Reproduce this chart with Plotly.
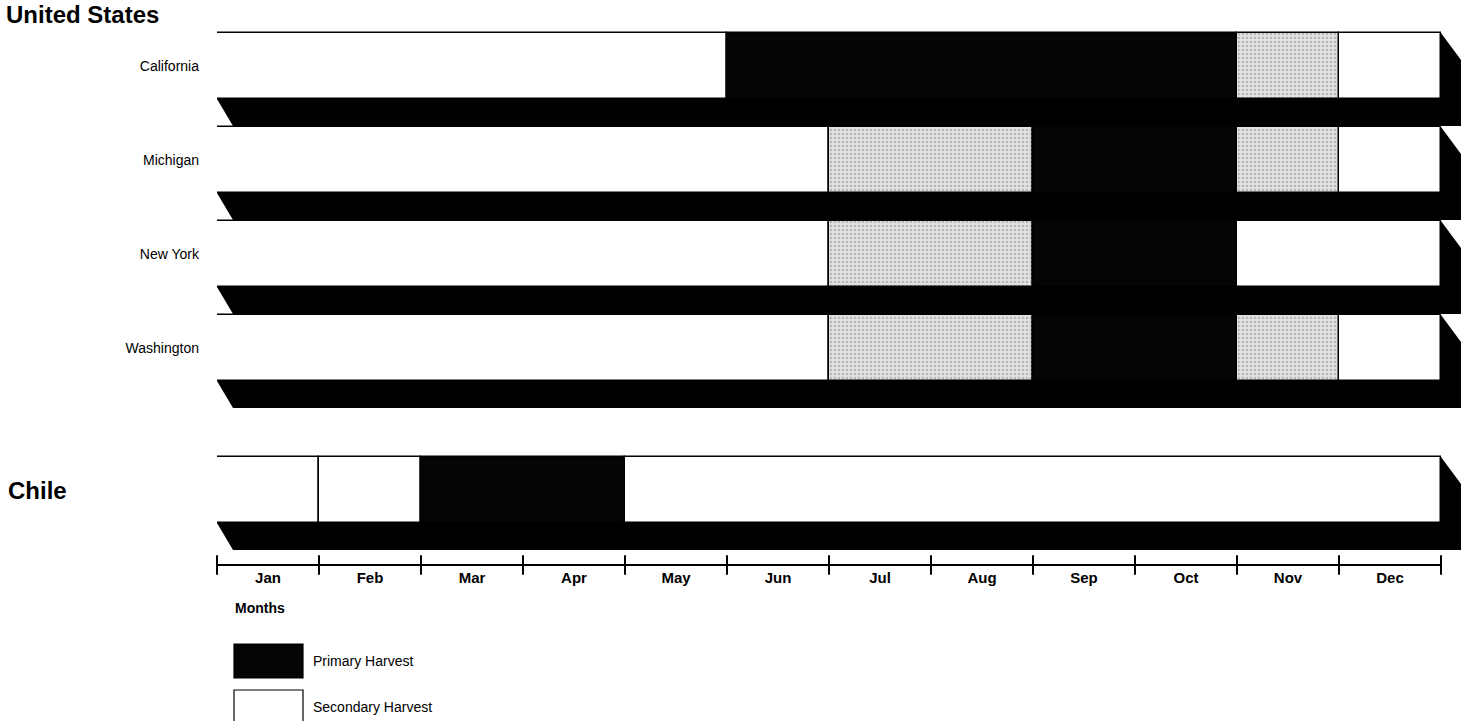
import plotly.graph_objects as go

# ---- data -------------------------------------------------------------
MONTHS = ["Jan", "Feb", "Mar", "Apr", "May", "Jun",
          "Jul", "Aug", "Sep", "Oct", "Nov", "Dec"]

REGIONS = ["California", "Michigan", "New York", "Washington", "Chile"]
GROUP_TITLES = ["United States", "Chile"]

# season blocks per region: (first month, last month, season code)
CALIFORNIA = [("Jan", "May", "open"), ("Jun", "Oct", "primary"),
              ("Nov", "Nov", "shaded"), ("Dec", "Dec", "open")]
MICHIGAN = [("Jan", "Jun", "open"), ("Jul", "Aug", "shaded"),
            ("Sep", "Oct", "primary"), ("Nov", "Nov", "shaded"),
            ("Dec", "Dec", "open")]
NEW_YORK = [("Jan", "Jun", "open"), ("Jul", "Aug", "shaded"),
            ("Sep", "Oct", "primary"), ("Nov", "Dec", "open")]
WASHINGTON = [("Jan", "Jun", "open"), ("Jul", "Aug", "shaded"),
              ("Sep", "Oct", "primary"), ("Nov", "Nov", "shaded"),
              ("Dec", "Dec", "open")]
CHILE = [("Jan", "Jan", "open"), ("Feb", "Feb", "open"),
         ("Mar", "Apr", "primary"), ("May", "Dec", "open")]

SEGMENTS = [CALIFORNIA, MICHIGAN, NEW_YORK, WASHINGTON, CHILE]
LEGEND_LABELS = ["Primary Harvest", "Secondary Harvest"]

# ---- geometry / style -------------------------------------------------
W, H = 1464, 721
LEFT = 217            # x pixel of January start
MONTH_PX = 102        # pixels per month
TOP, BOTTOM = 20, 566 # plot area in pixels
ROW_TOPS = [33, 127, 221, 315, 457]
BAR_H = 66
DEPTH_Y = 27
DEPTH_XL = 16 / MONTH_PX
DEPTH_XR = 20 / MONTH_PX
AXIS_Y = 565
FONT = "Liberation Sans, Arial, Helvetica, sans-serif"

FILLS = {"primary": "#050505", "shaded": "#d2d2d2", "open": "#ffffff"}


def paper_x(p):
    return (p - LEFT) / (W - LEFT)


def paper_y(p):
    return (BOTTOM - p) / (BOTTOM - TOP)


fig = go.Figure()
shapes = []

# extruded shadow behind every row
for top in ROW_TOPS:
    bot = top + BAR_H
    x0, x1 = 0, len(MONTHS)
    path = (f"M {x0},{top} L {x1},{top} L {x1 + DEPTH_XR},{top + DEPTH_Y} "
            f"L {x1 + DEPTH_XR},{bot + DEPTH_Y} L {x0 + DEPTH_XL},{bot + DEPTH_Y} "
            f"L {x0},{bot} Z")
    shapes.append(dict(type="path", path=path, xref="x", yref="y",
                       fillcolor="#000000", line=dict(width=0), layer="below"))

# season bars
for code in ["open", "shaded", "primary"]:
    ys, bases, lens = [], [], []
    for top, segs in zip(ROW_TOPS, SEGMENTS):
        for start, end, c in segs:
            if c != code:
                continue
            i0, i1 = MONTHS.index(start), MONTHS.index(end)
            ys.append(top + BAR_H / 2)
            bases.append(i0)
            lens.append(i1 - i0 + 1)
    marker = dict(color=FILLS[code], line=dict(color="#000000", width=1.5))
    if code == "shaded":
        marker["pattern"] = dict(shape=".", fgcolor="#8c8c8c", bgcolor="#e2e2e2",
                                 size=4, solidity=0.35)
    fig.add_trace(go.Bar(orientation="h", y=ys, x=lens, base=bases, width=BAR_H,
                         marker=marker, showlegend=False, hoverinfo="skip"))

# month axis line with crossing tick marks at month boundaries
fig.add_trace(go.Scatter(x=[0, len(MONTHS)], y=[AXIS_Y, AXIS_Y], mode="lines",
                         line=dict(color="#000000", width=2),
                         showlegend=False, hoverinfo="skip"))
fig.add_trace(go.Scatter(x=list(range(len(MONTHS) + 1)), y=[AXIS_Y] * (len(MONTHS) + 1),
                         mode="markers", cliponaxis=False,
                         marker=dict(symbol="line-ns", size=14,
                                     line=dict(color="#000000", width=2)),
                         showlegend=False, hoverinfo="skip"))

# legend swatches
swatch_fill = ["#050505", "#ffffff"]
swatch_tops = [644, 690]
annotations = []
for lab, fill, st in zip(LEGEND_LABELS, swatch_fill, swatch_tops):
    shapes.append(dict(type="rect", xref="paper", yref="paper",
                       x0=paper_x(234), x1=paper_x(303),
                       y0=paper_y(st + 34), y1=paper_y(st),
                       fillcolor=fill, line=dict(color="#000000", width=1.2)))
    annotations.append(dict(text=lab, xref="paper", yref="paper",
                            x=paper_x(311), y=paper_y(st + 17),
                            xanchor="left", yanchor="middle", showarrow=False,
                            font=dict(family=FONT, size=14, color="#000000")))

annotations.append(dict(text="Months", xref="paper", yref="paper",
                        x=paper_x(233), y=paper_y(608), xanchor="left",
                        yanchor="middle", showarrow=False,
                        font=dict(family=FONT, size=14, color="#000000", weight="bold")))
annotations.append(dict(text=GROUP_TITLES[0], xref="paper", yref="paper",
                        x=paper_x(4), y=paper_y(14), xanchor="left",
                        yanchor="middle", showarrow=False,
                        font=dict(family=FONT, size=24, color="#000000", weight="bold")))
annotations.append(dict(text=GROUP_TITLES[1], xref="paper", yref="paper",
                        x=paper_x(6), y=paper_y(490), xanchor="left",
                        yanchor="middle", showarrow=False,
                        font=dict(family=FONT, size=24, color="#000000", weight="bold")))

row_centers = [t + BAR_H / 2 for t in ROW_TOPS]
us_rows = REGIONS[:4]

fig.update_layout(
    width=W, height=H,
    margin=dict(l=LEFT, r=0, t=TOP, b=H - BOTTOM, pad=0),
    paper_bgcolor="#ffffff", plot_bgcolor="#ffffff",
    barmode="overlay", bargap=0,
    shapes=shapes, annotations=annotations,
    xaxis=dict(range=[0, (W - LEFT) / MONTH_PX],
               tickvals=[i + 0.5 for i in range(len(MONTHS))], ticktext=MONTHS,
               ticks="", showline=False, showgrid=False, zeroline=False,
               ticklabelstandoff=1,
               tickfont=dict(family=FONT, size=15, color="#000000", weight="bold")),
    yaxis=dict(range=[BOTTOM, TOP], tickvals=row_centers[:4], ticktext=us_rows,
               ticks="", showline=False, showgrid=False, zeroline=False,
               ticklabelstandoff=17,
               tickfont=dict(family=FONT, size=14, color="#000000")),
    font=dict(family=FONT, color="#000000"),
)

fig.write_html("out.html")
